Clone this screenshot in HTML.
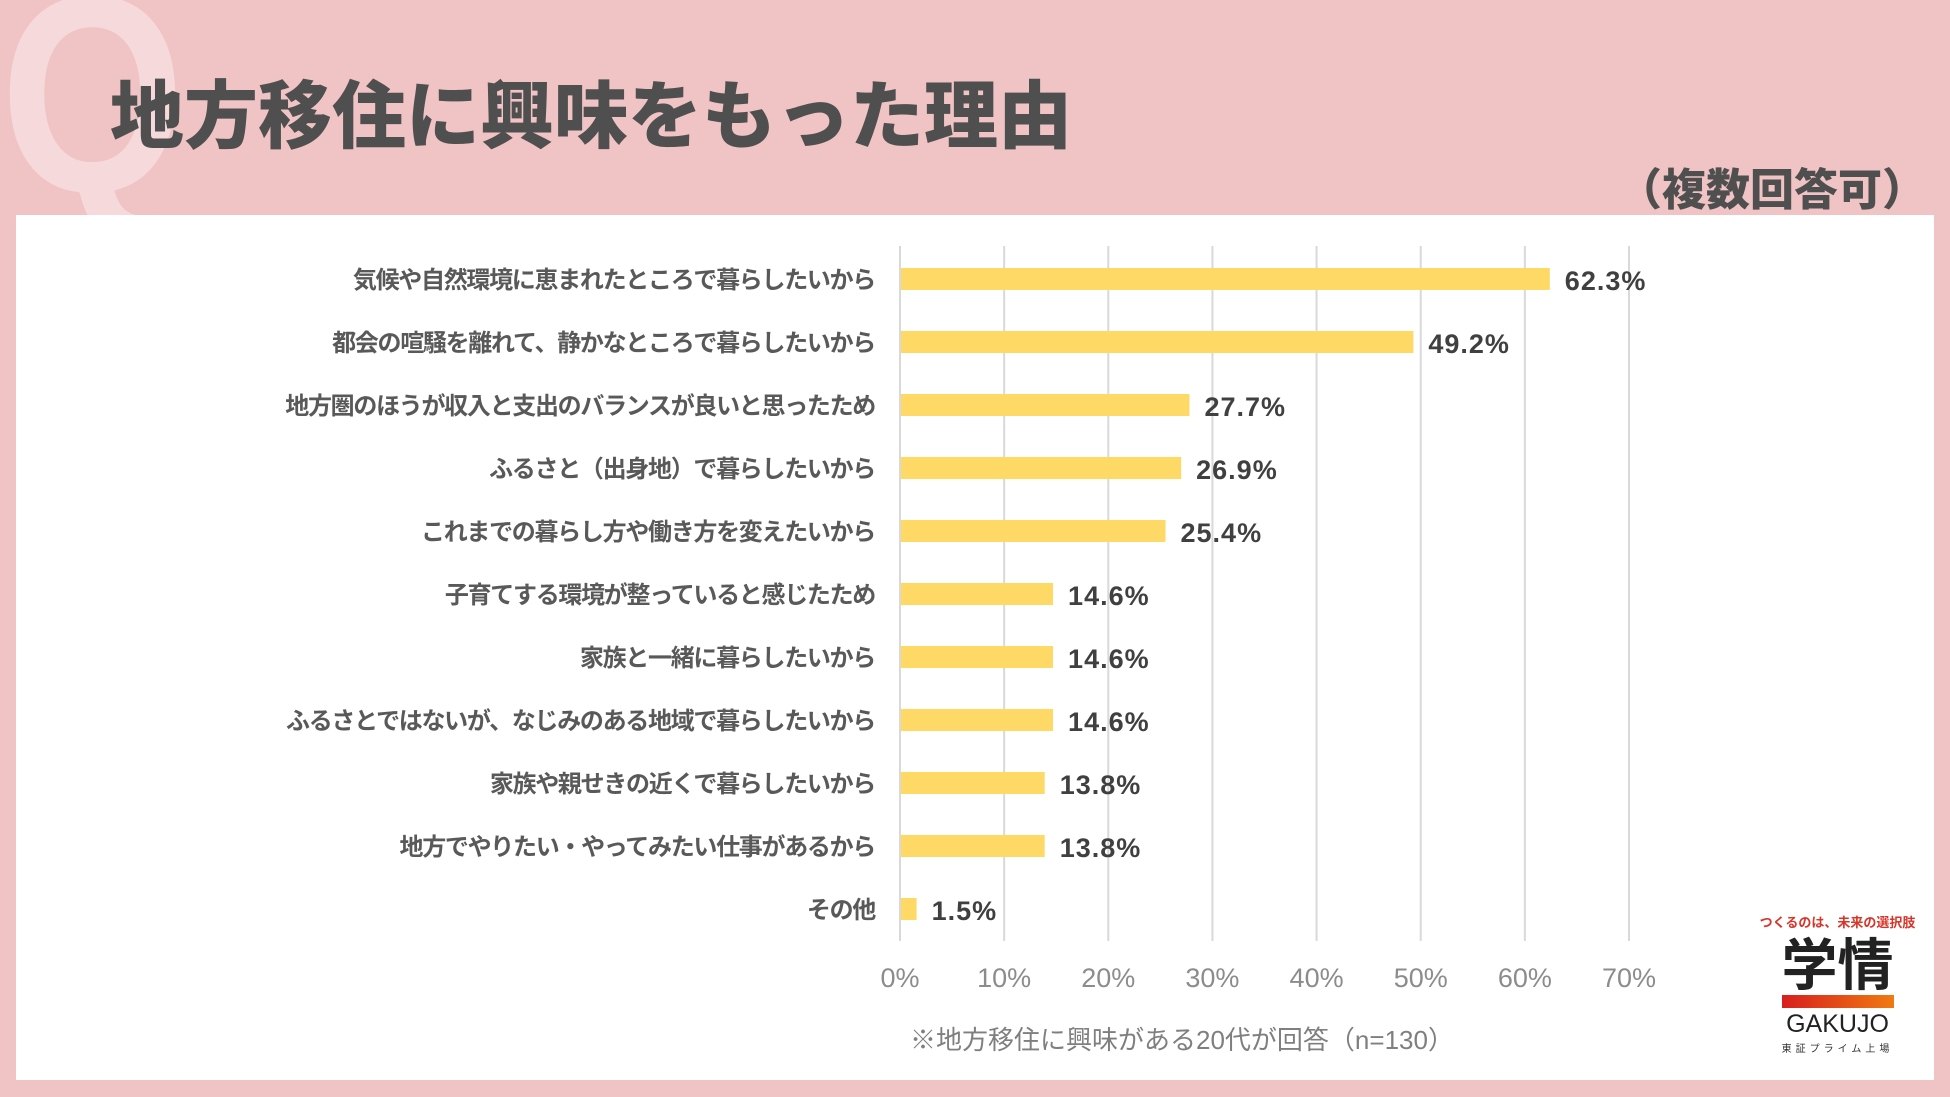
<!DOCTYPE html>
<html><head><meta charset="utf-8"><style>
body{margin:0;width:1950px;height:1097px;background:#f0c3c4;overflow:hidden;position:relative;font-family:"Liberation Sans","Noto Sans CJK JP",sans-serif}
.abs{position:absolute}
</style></head><body>
<div class="abs" style="left:0px;top:-45px;font-size:280px;font-weight:bold;color:#f6d9da;line-height:1;transform:scaleX(0.85);transform-origin:left top">Q</div>
<div class="abs" style="left:110px;top:74px;font-size:74px;font-weight:900;color:#4f4f4f;line-height:1;font-family:'Noto Sans CJK JP',sans-serif">地方移住に興味をもった理由</div>
<div class="abs" style="right:24px;top:164px;font-size:44px;font-weight:900;color:#4f4f4f;line-height:1;font-family:'Noto Sans CJK JP',sans-serif">（複数回答可）</div>
<div class="abs" style="left:16px;top:215px;width:1918px;height:865px;background:#fff"></div>
<svg class="abs" style="left:0;top:0" width="1950" height="1097" id="chart"></svg>
<div class="abs" style="left:0;width:2364px;text-align:center;top:1020px;font-size:26px;color:#7f7f7f">※地方移住に興味がある20代が回答（n=130）</div>
<div class="abs" style="left:1755px;top:912px;width:165px;text-align:center;font-family:'Noto Sans CJK JP',sans-serif">
<div style="font-size:13px;color:#d8352a;font-weight:bold">つくるのは、未来の選択肢</div>
<div style="font-size:56px;color:#222;font-weight:bold;line-height:62px">学情</div>
<div style="margin:2px auto 0;width:112px;height:13px;background:linear-gradient(90deg,#d81e1e,#f07a10)"></div>
<div style="font-size:25px;color:#222;line-height:32px;font-family:'Liberation Sans',sans-serif">GAKUJO</div>
<div style="font-size:10px;color:#333;letter-spacing:4px">東証プライム上場</div>
</div>
<script>
const categories=["気候や自然環境に恵まれたところで暮らしたいから","都会の喧騒を離れて、静かなところで暮らしたいから","地方圏のほうが収入と支出のバランスが良いと思ったため","ふるさと（出身地）で暮らしたいから","これまでの暮らし方や働き方を変えたいから","子育てする環境が整っていると感じたため","家族と一緒に暮らしたいから","ふるさとではないが、なじみのある地域で暮らしたいから","家族や親せきの近くで暮らしたいから","地方でやりたい・やってみたい仕事があるから","その他"];
const values=[62.3,49.2,27.7,26.9,25.4,14.6,14.6,14.6,13.8,13.8,1.5];
const ticks=[0,10,20,30,40,50,60,70];
const svg=document.getElementById('chart');const NS='http://www.w3.org/2000/svg';
const x0=900,x1=1629,xmax=70,yTop=246,yBot=941,y0=279,step=63;
const xs=v=>x0+(x1-x0)*v/xmax;
const ys=i=>y0+i*step;
function mk(t,a){const e=document.createElementNS(NS,t);for(const k in a)e.setAttribute(k,a[k]);svg.appendChild(e);return e;}
ticks.forEach(t=>{
const l=mk('line',{x1:xs(t),x2:xs(t),y1:yTop,y2:yBot,stroke:'#d9d9d9','stroke-width':2});


const tx=mk('text',{x:xs(t),y:987,'text-anchor':'middle','font-size':27,fill:'#8c8c8c'});tx.textContent=t+'%';


});
values.forEach((v,i)=>{
const y=ys(i);
const r=mk('rect',{x:x0+1,y:y-11,width:xs(v)-x0,height:22,fill:'#ffd966'});


const c=mk('text',{x:875,y:y+9,'text-anchor':'end','font-size':24,'font-weight':'bold',fill:'#595959','font-family':'Noto Sans CJK JP, sans-serif','letter-spacing':'-1.3'});c.textContent=categories[i];


const vl=mk('text',{x:xs(v)+16,y:y+11,'font-size':27,'font-weight':'bold',fill:'#404040','letter-spacing':'1'});vl.textContent=v.toFixed(1)+'%';


});
</script>
</body></html>
